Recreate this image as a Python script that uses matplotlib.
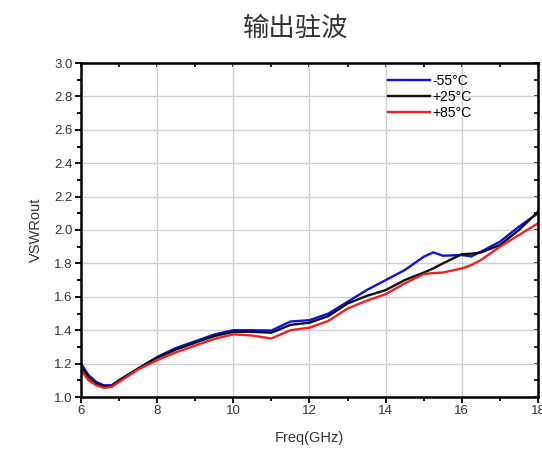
import matplotlib
matplotlib.use("Agg")
import matplotlib.pyplot as plt
from matplotlib.ticker import MultipleLocator

# frequency points (GHz) shared by all three curves
freq = [6.0, 6.2, 6.4, 6.6, 6.8, 7.0, 7.5, 8.0, 8.5, 9.0, 9.5, 10.0, 10.5, 11.0,
        11.5, 12.0, 12.5, 13.0, 13.5, 14.0, 14.5, 15.0, 15.25, 15.5, 16.0, 16.25,
        16.5, 17.0, 17.5, 18.0]

vswr_m55 = [1.20, 1.13, 1.09, 1.07, 1.07, 1.10, 1.17, 1.24, 1.294, 1.334, 1.374, 1.40,
            1.40, 1.398, 1.452, 1.46, 1.50, 1.57, 1.64, 1.70, 1.76, 1.84, 1.866, 1.846,
            1.85, 1.842, 1.87, 1.93, 2.02, 2.10]
vswr_p25 = [1.18, 1.12, 1.08, 1.065, 1.065, 1.10, 1.17, 1.235, 1.285, 1.325, 1.365, 1.39,
            1.39, 1.385, 1.432, 1.445, 1.485, 1.56, 1.605, 1.64, 1.70, 1.745, 1.77, 1.80,
            1.855, 1.858, 1.865, 1.91, 2.00, 2.11]
vswr_p85 = [1.16, 1.10, 1.07, 1.055, 1.06, 1.09, 1.165, 1.22, 1.268, 1.308, 1.348, 1.375,
            1.368, 1.35, 1.40, 1.415, 1.456, 1.53, 1.576, 1.616, 1.68, 1.736, 1.742, 1.745,
            1.77, 1.79, 1.82, 1.90, 1.97, 2.04]

labels = ['-55\u00b0C', '+25\u00b0C', '+85\u00b0C']

plt.rcParams['font.family'] = ['Liberation Sans', 'DejaVu Sans']

fig = plt.figure(figsize=(5.42, 4.51), dpi=100)
ax = fig.add_axes([81 / 542, 1 - 397 / 451, 457 / 542, 334 / 451])

ax.plot(freq, vswr_m55, color='#1010e0', lw=1.7, label=labels[0])
ax.plot(freq, vswr_p25, color='#101010', lw=1.7, label=labels[1])
ax.plot(freq, vswr_p85, color='#f02020', lw=1.7, label=labels[2])

ax.set_xlim(6, 18)
ax.set_ylim(1.0, 3.0)
ax.xaxis.set_major_locator(MultipleLocator(2))
ax.xaxis.set_minor_locator(MultipleLocator(1))
ax.yaxis.set_major_locator(MultipleLocator(0.2))
ax.yaxis.set_minor_locator(MultipleLocator(0.1))
ax.yaxis.set_major_formatter(plt.FormatStrFormatter('%.1f'))

ax.grid(True, which='major', color='#d0d0d0', lw=1.0)
ax.set_axisbelow(True)
for s in ax.spines.values():
    s.set_linewidth(1.8)
    s.set_color('black')

ax.tick_params(which='both', direction='out', labelsize=9.5, colors='black',
               labelcolor='#333333', width=1.3)
ax.tick_params(which='major', length=4, pad=2)
ax.tick_params(which='minor', length=3)
# small inward ticks on top and right edge
ax2 = ax.secondary_xaxis('top')
ax2.xaxis.set_major_locator(MultipleLocator(1))
ax2.tick_params(direction='in', length=3, width=1.2, labeltop=False)
ax3 = ax.secondary_yaxis('right')
ax3.yaxis.set_major_locator(MultipleLocator(0.1))
ax3.tick_params(direction='in', length=3, width=1.2, labelright=False)

ax.set_xlabel('Freq(GHz)', fontsize=10.5, color='#333333', labelpad=10)
ax.set_ylabel('VSWRout', fontsize=10.5, color='#333333', labelpad=8)

leg = ax.legend(loc='upper left', bbox_to_anchor=(0.66, 0.985), frameon=False,
                fontsize=10, handlelength=3.0, handletextpad=0.2,
                labelspacing=0.15, borderaxespad=0)

fig.text(0.546, 0.937, '输出驻波', fontsize=19, color='#333333', ha='center', va='center',
         family=['Noto Sans CJK SC', 'DejaVu Sans'], fontweight='light')

fig.savefig('out.png', dpi=100)
